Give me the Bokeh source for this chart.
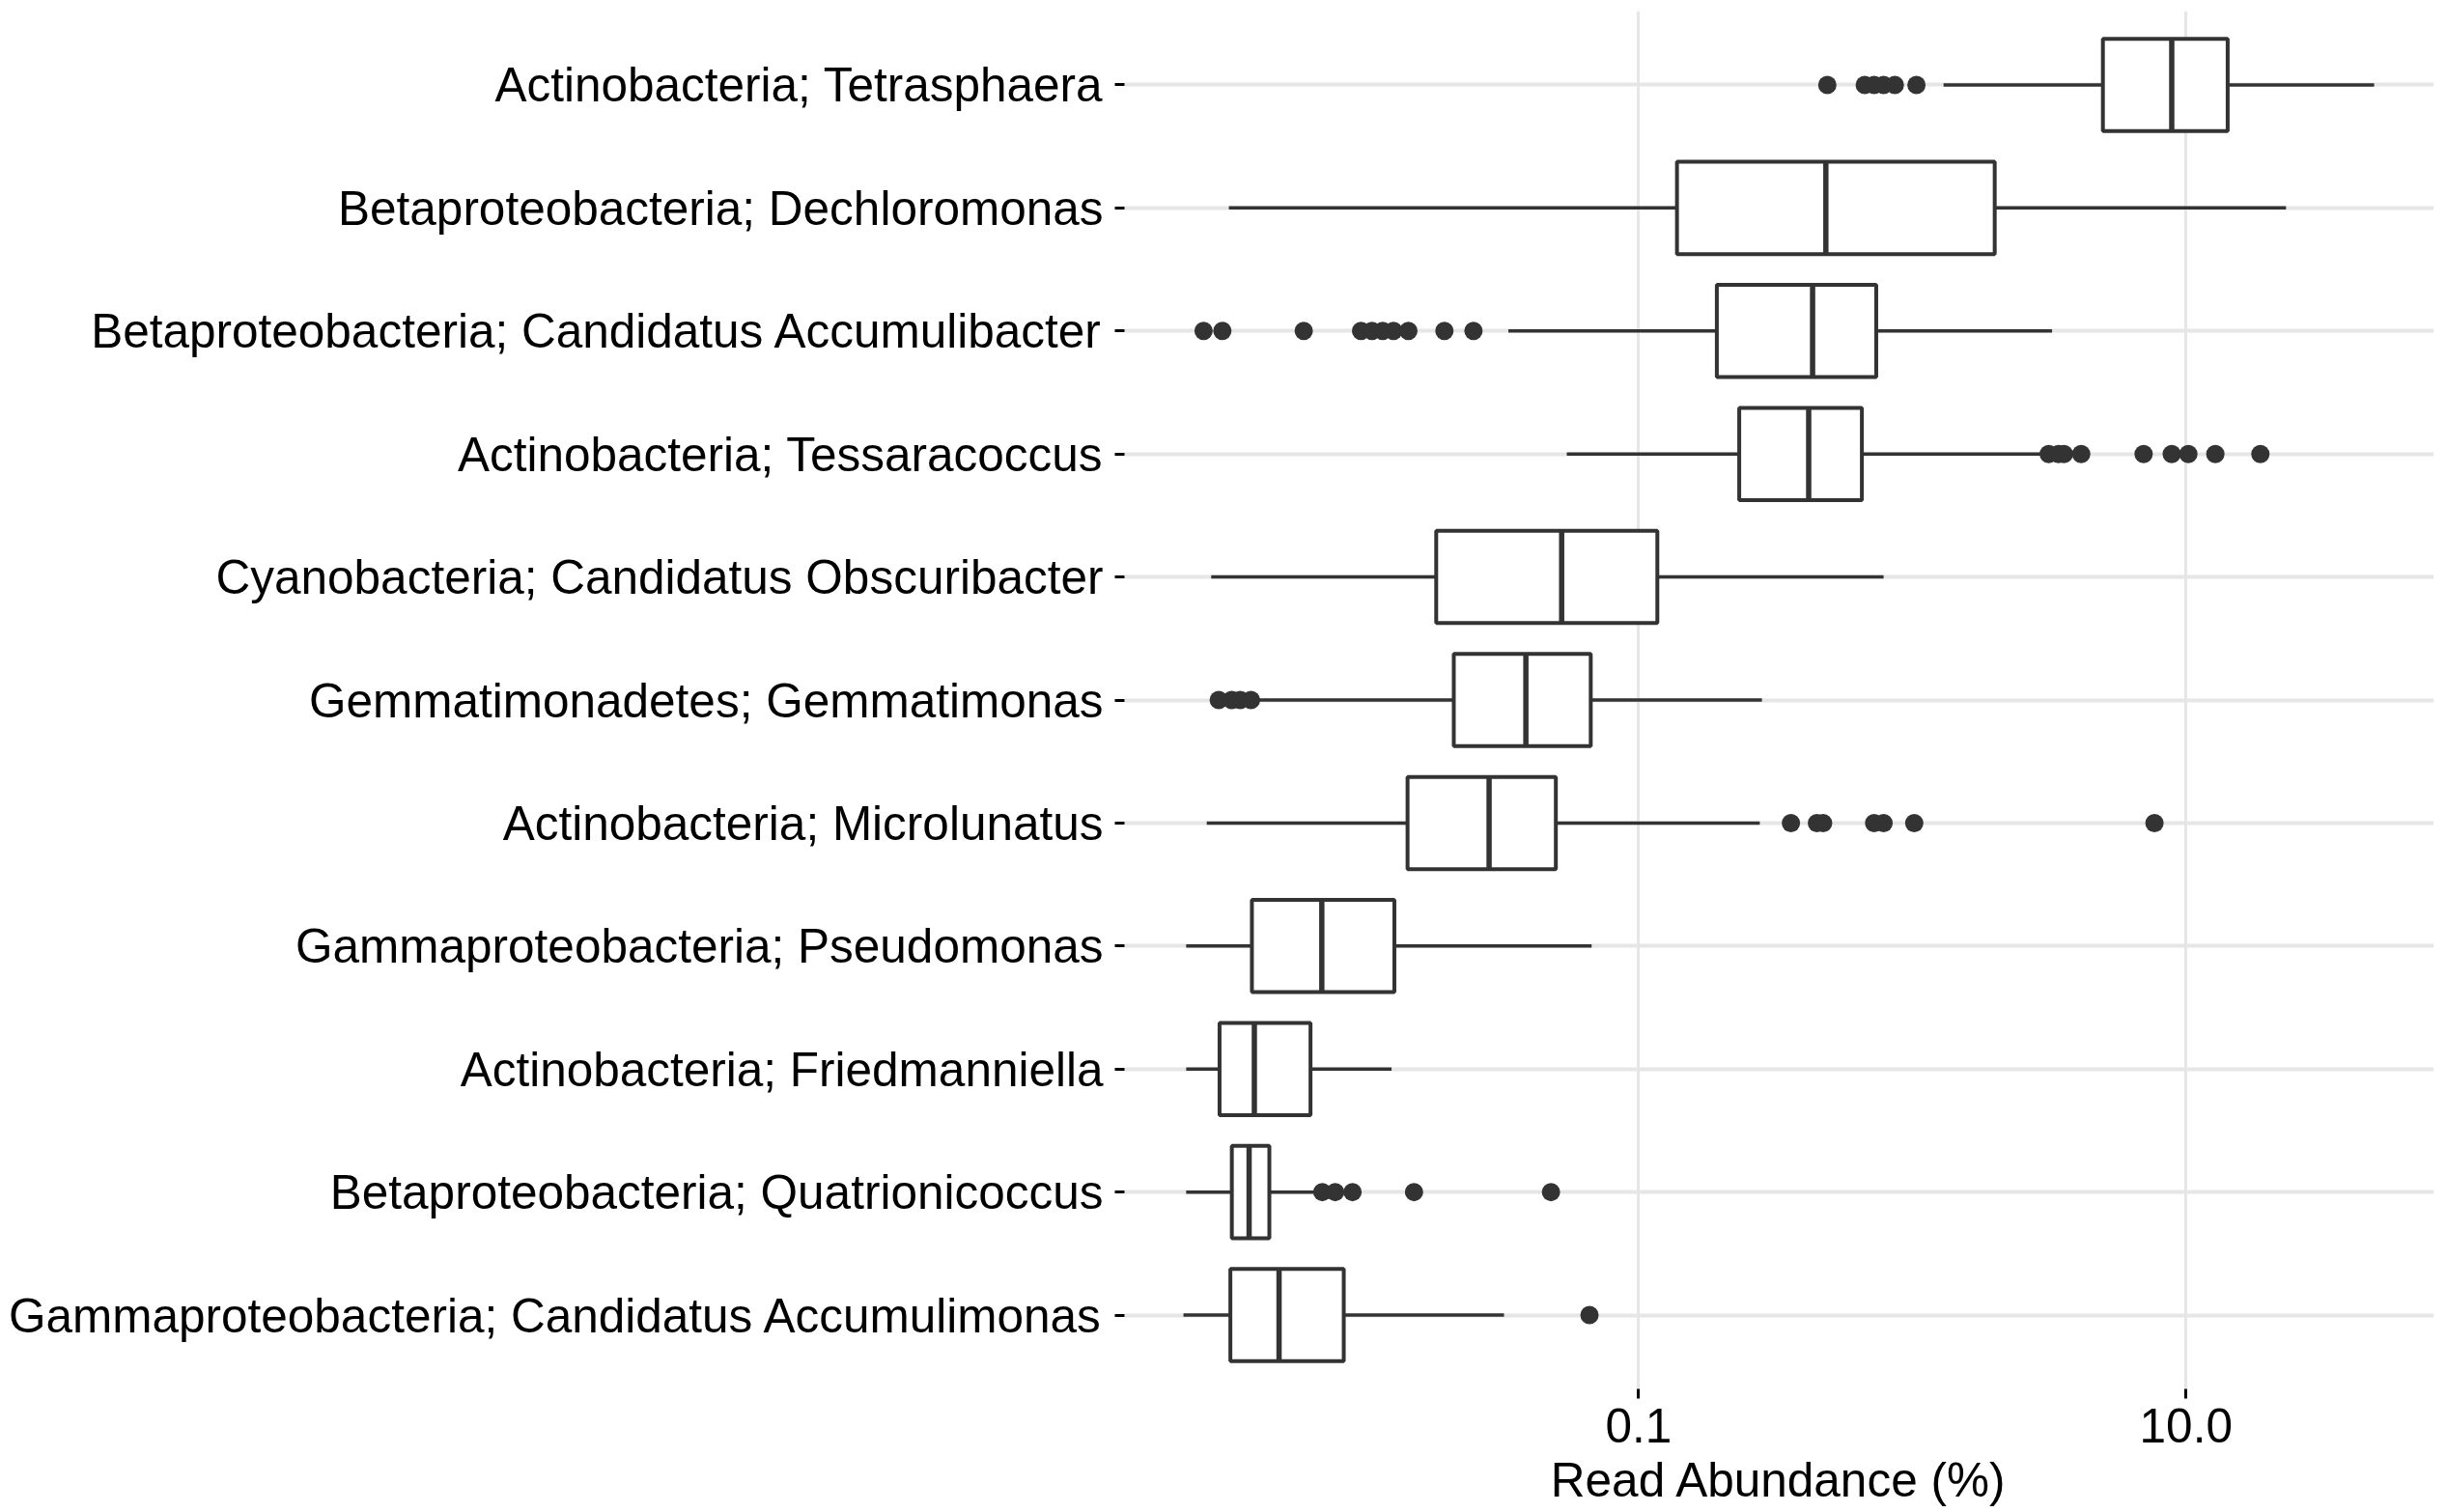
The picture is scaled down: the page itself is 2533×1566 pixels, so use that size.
from bokeh.plotting import figure
from bokeh.models import (FactorRange, Range1d, FixedTicker, CustomJSTickFormatter,
                          ColumnDataSource)
from bokeh.embed import file_html
from bokeh.resources import INLINE

# ---- data (top to bottom as shown) ----
categories = [
    "Actinobacteria; Tetrasphaera",
    "Betaproteobacteria; Dechloromonas",
    "Betaproteobacteria; Candidatus Accumulibacter",
    "Actinobacteria; Tessaracoccus",
    "Cyanobacteria; Candidatus Obscuribacter",
    "Gemmatimonadetes; Gemmatimonas",
    "Actinobacteria; Microlunatus",
    "Gammaproteobacteria; Pseudomonas",
    "Actinobacteria; Friedmanniella",
    "Betaproteobacteria; Quatrionicoccus",
    "Gammaproteobacteria; Candidatus Accumulimonas",
]
whisker_low = [1.30, 0.00318, 0.0334, 0.0546, 0.00274, 0.00404, 0.00264, 0.00222, 0.00222, 0.00222, 0.00217]
q1 = [4.97, 0.138, 0.193, 0.233, 0.0182, 0.0211, 0.0143, 0.00386, 0.00294, 0.00326, 0.00322]
median = [8.87, 0.483, 0.432, 0.418, 0.0523, 0.0387, 0.0284, 0.00695, 0.00394, 0.00377, 0.00485]
q3 = [14.2, 2.00, 0.738, 0.654, 0.117, 0.0668, 0.0498, 0.0128, 0.00632, 0.00447, 0.00836]
whisker_high = [48.7, 23.2, 3.24, 3.04, 0.785, 0.282, 0.277, 0.0673, 0.0125, 0.00673, 0.0322]
outliers = [
    [0.489, 0.670, 0.725, 0.785, 0.863, 1.035],
    [],
    [0.00257, 0.00301, 0.00597, 0.00967, 0.0106, 0.0116, 0.0127, 0.0144, 0.0195, 0.0249],
    [3.15, 3.42, 3.58, 4.14, 7.00, 8.87, 10.2, 12.8, 18.7],
    [],
    [0.00292, 0.00326, 0.00350, 0.00383],
    [0.360, 0.448, 0.472, 0.725, 0.785, 1.016, 7.67],
    [],
    [],
    [0.00698, 0.00778, 0.00900, 0.0151, 0.0478],
    [0.0661],
]
x_ticks = [0.1, 10]
x_label = "Read Abundance (%)"

# ---- styling ----
DARK = "#333333"
GRID = "#E6E6E6"
FONT = "Liberation Sans"
FS = "49.5px"
BOX_H = 0.75

factors = list(reversed(categories))
n = len(categories)

p = figure(
    width=2525, height=1566,
    x_axis_type="log",
    x_range=Range1d(10 ** -2.879, 10 ** 1.906),
    y_range=FactorRange(factors=factors, range_padding=0.2 / n,
                        range_padding_units="percent"),
    output_backend="svg", toolbar_location=None,
    min_border_left=1164, min_border_right=5,
    min_border_top=11, min_border_bottom=128,
)
p.background_fill_color = "white"
p.border_fill_color = "white"
p.outline_line_color = None

# grids
p.xgrid.ticker = FixedTicker(ticks=x_ticks)
p.xgrid.grid_line_color = GRID
p.xgrid.grid_line_width = 3
p.xgrid.minor_grid_line_color = None
p.ygrid.grid_line_color = GRID
p.ygrid.grid_line_width = 4

# x axis
p.xaxis.ticker = FixedTicker(ticks=x_ticks)
p.xaxis.formatter = CustomJSTickFormatter(code="return tick.toFixed(1);")
p.xaxis.axis_label = x_label
p.xaxis.axis_label_text_font = FONT
p.xaxis.axis_label_text_font_size = FS
p.xaxis.axis_label_text_font_style = "normal"
p.xaxis.axis_label_text_color = "black"
p.xaxis.axis_label_standoff = 8
p.xaxis.major_label_text_font = FONT
p.xaxis.major_label_text_font_size = FS
p.xaxis.major_label_text_color = "black"
p.xaxis.major_label_standoff = 10
p.xaxis.minor_tick_line_color = None

# y axis
p.yaxis.major_label_text_font = FONT
p.yaxis.major_label_text_font_size = FS
p.yaxis.major_label_text_color = "black"
p.yaxis.major_label_standoff = 12

for ax in (p.xaxis, p.yaxis):
    ax.axis_line_color = None
    ax.major_tick_in = 0
    ax.major_tick_out = 10
    ax.major_tick_line_color = "black"
    ax.major_tick_line_width = 3

# whiskers
wsrc = ColumnDataSource(dict(
    y=categories + categories,
    x0=whisker_low + q3,
    x1=q1 + whisker_high,
))
p.segment(x0="x0", x1="x1", y0="y", y1="y", source=wsrc,
          line_color=DARK, line_width=3.5)

# boxes
bsrc = ColumnDataSource(dict(y=categories, left=q1, right=q3))
p.hbar(y="y", left="left", right="right", height=BOX_H, source=bsrc,
       fill_color="white", line_color=DARK, line_width=4)

# medians
msrc = ColumnDataSource(dict(
    x=median,
    y0=[(c, -BOX_H / 2) for c in categories],
    y1=[(c, BOX_H / 2) for c in categories],
))
p.segment(x0="x", x1="x", y0="y0", y1="y1", source=msrc,
          line_color=DARK, line_width=5.5)

# outliers
ox, oy = [], []
for c, vals in zip(categories, outliers):
    for v in vals:
        ox.append(v)
        oy.append(c)
p.scatter(x=ox, y=oy, marker="circle", size=19, fill_color=DARK, line_color=None)

open("out.html", "w").write(file_html(p, INLINE))
